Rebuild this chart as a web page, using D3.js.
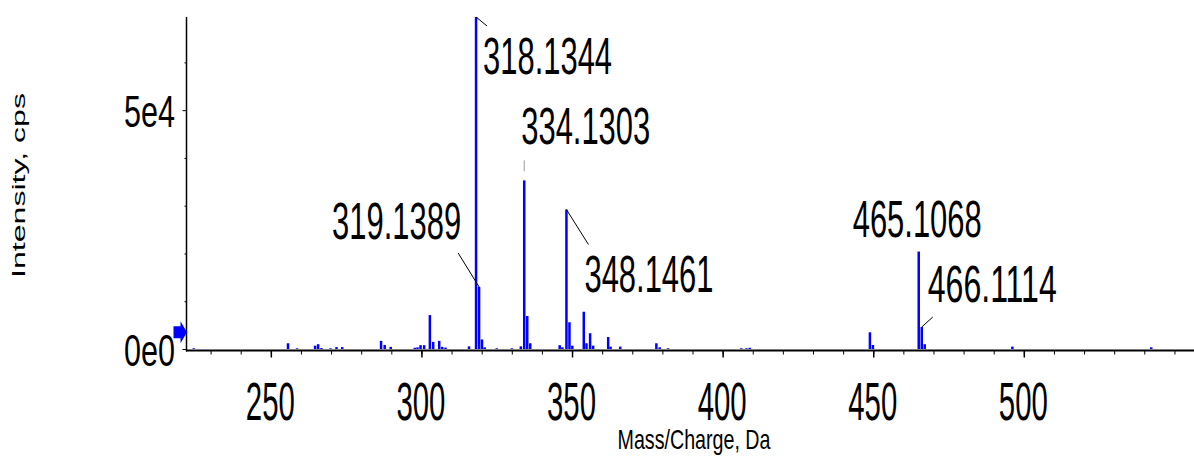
<!DOCTYPE html>
<html>
<head>
<meta charset="utf-8">
<script src="https://cdn.jsdelivr.net/npm/d3@7"></script>
<style>
  html, body { margin: 0; padding: 0; background: #fff; }
  svg { display: block; }
  text { font-family: "Liberation Sans", Arial, Helvetica, sans-serif; fill: #000; }
</style>
</head>
<body>
<svg id="chart" width="1194" height="456"></svg>
<script>
// Centroid spectrum: m/z (Da) and intensity (cps)
const mz = [
  224.4, 255.7, 258.7, 264.7, 265.7, 266.8, 269.8, 271.8, 273.7,
  286.6, 287.8, 289.8, 297.8, 298.7, 299.7, 300.9, 302.8, 303.9, 305.9, 306.9, 308.0,
  315.8, 318.1344, 319.1389, 320.1, 321.0, 325.0, 330.0, 333.0,
  334.1303, 335.13, 336.13, 345.9, 346.8, 348.1461, 349.15, 350.1,
  353.9, 354.8, 356.0, 357.0, 362.0, 362.8, 366.0, 378.0, 379.1, 381.9,
  406.2, 407.9, 409.0, 448.9, 449.9, 465.1068, 466.1114, 467.1, 496.2, 542.3
];
const intensity = [
  150, 1200, 150, 700, 1000, 200, 150, 400, 400,
  1700, 850, 450, 250, 350, 800, 800, 7100, 1500, 1700, 450, 300,
  550, 69500, 13000, 2000, 350, 150, 150, 550,
  35300, 6900, 1200, 800, 350, 29200, 5600, 700,
  7800, 1200, 3300, 700, 2500, 500, 500, 1200, 350, 150,
  150, 150, 250, 3500, 850, 20400, 4600, 1000, 500, 350
];

// Peaks carrying an m/z annotation
const labelledMz = [318.1344, 319.1389, 334.1303, 348.1461, 465.1068, 466.1114];

// Axis ticks
const xTicks = [250, 300, 350, 400, 450, 500];
const xMinorTicks = d3.range(230, 557, 10);
const yTicks = [0, 50000];
const yTickLabels = ["0e0", "5e4"];
const yMinorTicks = [10000, 20000, 30000, 40000, 60000];
const thresholdLevel = 3500;

const xTitle = "Mass/Charge, Da";
const yTitle = "Intensity, cps";

// Label placement relative to the peak apex (pixels)
const labelLayout = {
  318.1344: { dx: 7,   dy: 57,  anchor: "start", leader: [0, 0, 11, 9],     leaderColor: "#000" },
  319.1389: { dx: -18, dy: -48, anchor: "end",   leader: [0, 0, -21, -34],  leaderColor: "#000" },
  334.1303: { dx: -3,  dy: -36, anchor: "start", leader: [0, -20, 0, -9],   leaderColor: "#999" },
  348.1461: { dx: 18,  dy: 82,  anchor: "start", leader: [0, 0, 22, 35],    leaderColor: "#000" },
  465.1068: { dx: -66, dy: -15, anchor: "start", leader: null },
  466.1114: { dx: 6,   dy: -25, anchor: "start", leader: [0, 0, 11, -10],   leaderColor: "#000" }
};

const svg = d3.select("#chart");
const x0 = 186.5, x1 = 1194, yBase = 349, yTop = 17, axisY = 350.5;

const x = d3.scaleLinear().domain([222, 556.5]).range([x0, x1]);
const y = d3.scaleLinear().domain([0, 69500]).range([yBase, yTop]);

const barW = 2.5;
const peaks = mz.map((m, i) => ({ m, v: intensity[i] }));

// Bars
svg.append("g").selectAll("rect").data(peaks).join("rect")
  .attr("x", d => x(d.m) - barW / 2)
  .attr("y", d => y(d.v))
  .attr("width", barW)
  .attr("height", d => yBase - y(d.v))
  .attr("fill", "#0000ff");

// X axis: major and minor ticks
const gx = svg.append("g").attr("transform", `translate(0,${axisY})`);
gx.call(d3.axisBottom(x).tickValues(xMinorTicks).tickSize(4).tickFormat("").tickSizeOuter(0));
gx.call(g => g.select(".domain").remove());
const gxMaj = svg.append("g").attr("transform", `translate(0,${axisY})`);
gxMaj.call(d3.axisBottom(x).tickValues(xTicks).tickSize(7).tickSizeOuter(0));
gxMaj.select(".domain").remove();
gxMaj.selectAll(".tick line").attr("stroke-width", 1.5);
gxMaj.selectAll(".tick text")
  .attr("y", 69).attr("dy", null).attr("x", -1)
  .attr("font-size", 54)
  .attr("textLength", 49).attr("lengthAdjust", "spacingAndGlyphs")
  .style("font-family", "'Liberation Sans', Arial, sans-serif")
  .attr("fill", "#000");
svg.append("line")
  .attr("x1", x0 - 0.5).attr("x2", x1).attr("y1", axisY).attr("y2", axisY)
  .attr("stroke", "#000").attr("stroke-width", 2);

// Y axis
const gy = svg.append("g").attr("transform", `translate(${x0},0)`);
gy.call(d3.axisLeft(y).tickValues(yMinorTicks).tickSize(2).tickFormat("").tickSizeOuter(0));
gy.select(".domain").remove();
const gyMaj = svg.append("g").attr("transform", `translate(${x0},0)`);
gyMaj.call(d3.axisLeft(y).tickValues(yTicks).tickSize(4).tickSizeOuter(0)
  .tickFormat((d, i) => yTickLabels[i]));
gyMaj.select(".domain").remove();
gyMaj.selectAll(".tick text")
  .attr("x", -11.5).attr("dy", null).attr("y", 16)
  .attr("font-size", 44)
  .attr("textLength", 51).attr("lengthAdjust", "spacingAndGlyphs")
  .style("font-family", "'Liberation Sans', Arial, sans-serif")
  .attr("fill", "#000");
svg.append("line")
  .attr("x1", x0).attr("x2", x0).attr("y1", yTop).attr("y2", axisY + 1)
  .attr("stroke", "#000").attr("stroke-width", 1.5);

// Threshold marker on the intensity axis
const ty = y(thresholdLevel);
svg.append("path")
  .attr("d", `M${x0 - 13},${ty - 6} H${x0 - 6} V${ty - 11} L${x0 + 0.5},${ty} L${x0 - 6},${ty + 11} V${ty + 6} H${x0 - 13} Z`)
  .attr("fill", "#0000ff");

// Peak annotations
const ann = svg.append("g");
labelledMz.forEach(m => {
  const i = mz.indexOf(m);
  const px = x(m), py = y(intensity[i]);
  const L = labelLayout[m];
  if (L.leader) {
    ann.append("line")
      .attr("x1", px + L.leader[0]).attr("y1", py + L.leader[1])
      .attr("x2", px + L.leader[2]).attr("y2", py + L.leader[3])
      .attr("stroke", L.leaderColor).attr("stroke-width", 1);
  }
  ann.append("text")
    .attr("x", px + L.dx).attr("y", py + L.dy)
    .attr("text-anchor", L.anchor)
    .attr("font-size", 51)
    .attr("textLength", 129).attr("lengthAdjust", "spacingAndGlyphs")
    .text(m.toFixed(4));
});

// Axis titles
svg.append("text")
  .attr("x", 694).attr("y", 449)
  .attr("text-anchor", "middle")
  .attr("font-size", 28)
  .attr("textLength", 153).attr("lengthAdjust", "spacingAndGlyphs")
  .text(xTitle);

svg.append("text")
  .attr("transform", `translate(25,185.5) rotate(-90)`)
  .attr("text-anchor", "middle")
  .attr("font-size", 18)
  .attr("textLength", 185).attr("lengthAdjust", "spacingAndGlyphs")
  .text(yTitle);
</script>
</body>
</html>
